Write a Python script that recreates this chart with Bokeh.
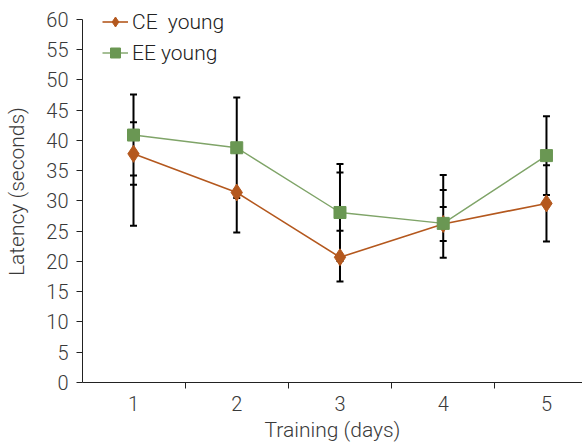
from bokeh.plotting import figure
from bokeh.models import Range1d, FixedTicker, Legend, LegendItem
from bokeh.embed import file_html
from bokeh.resources import INLINE

days = [1, 2, 3, 4, 5]
day_labels = ["1", "2", "3", "4", "5"]
ce_young = [37.8, 31.4, 20.7, 26.2, 29.6]
ee_young = [40.9, 38.8, 28.1, 26.3, 37.5]
ce_err_hi = [43.0, 38.0, 25.1, 29.0, 35.9]
ce_err_lo = [32.7, 24.8, 16.7, 23.4, 23.3]
ee_err_hi = [47.6, 47.1, 36.1, 31.8, 44.0]
ee_err_lo = [34.2, 30.5, 20.1, 20.6, 31.0]
extra_days = [1, 3, 4]
extra_ends = [25.9, 34.7, 34.3]
y_ticks = list(range(0, 61, 5))

CE_COLOR = "#B4581E"
EE_MARK = "#6A9753"
EE_LINE = "#7FA468"
FONT = "Roboto Light"
TXT = "#3a3a3a"

p = figure(width=582, height=445, output_backend="svg", toolbar_location=None,
           x_range=Range1d(0.506, 5.349), y_range=Range1d(0, 63.14),
           min_border_left=82, min_border_right=0, min_border_top=0,
           min_border_bottom=63)
p.outline_line_color = None
p.xgrid.grid_line_color = None
p.ygrid.grid_line_color = None
p.background_fill_color = "white"
p.border_fill_color = "white"

# error bars
ends = {d: [] for d in days}
for i, d in enumerate(days):
    ends[d] += [ce_err_hi[i], ce_err_lo[i], ee_err_hi[i], ee_err_lo[i]]
for d, e in zip(extra_days, extra_ends):
    ends[d].append(e)
seg_lo = [min(ends[d]) for d in days]
seg_hi = [max(ends[d]) for d in days]
p.segment(x0=days, y0=seg_lo, x1=days, y1=seg_hi, line_color="black", line_width=2)
cap_x, cap_y = [], []
for d in days:
    for e in ends[d]:
        cap_x.append(d)
        cap_y.append(e)
p.scatter(x=cap_x, y=cap_y, marker="dash", size=7, line_color="black", line_width=2)

# series
ce_line = p.line(days, ce_young, line_color=CE_COLOR, line_width=1.6)
ee_line = p.line(days, ee_young, line_color=EE_LINE, line_width=1.4)
ce_mark = p.scatter(days, ce_young, marker="diamond", size=17, fill_color=CE_COLOR, line_color=CE_COLOR)
ee_mark = p.scatter(days, ee_young, marker="square", size=12, fill_color=EE_MARK, line_color=EE_MARK)

legend = Legend(items=[LegendItem(label="CE  young", renderers=[ce_line, ce_mark]),
                       LegendItem(label="EE young", renderers=[ee_line, ee_mark])],
                location=(20, 317), padding=0, margin=0, spacing=6,
                glyph_width=26, glyph_height=25, label_height=25, label_standoff=4,
                border_line_color=None, background_fill_alpha=0,
                label_text_font=FONT, label_text_font_size="21px", label_text_color="#222222")
p.add_layout(legend)

# x axis
p.xaxis.ticker = FixedTicker(ticks=days, minor_ticks=[1.5, 2.5, 3.5, 4.5])
p.xaxis.major_label_overrides = {d: l for d, l in zip(days, day_labels)}
p.xaxis.major_tick_out = 6
p.xaxis.major_tick_in = 0
p.xaxis.minor_tick_out = 6
p.xaxis.minor_tick_in = 0
p.xaxis.minor_tick_line_color = "#222222"
p.xaxis.major_label_standoff = 7
p.xaxis.axis_label = "Training (days)"
p.xaxis.axis_label_standoff = 4

# y axis
p.yaxis.ticker = FixedTicker(ticks=y_ticks, minor_ticks=[])
p.yaxis.bounds = (0, 60)
p.yaxis.major_tick_out = 6
p.yaxis.major_tick_in = 0
p.yaxis.major_label_standoff = 8
p.yaxis.axis_label = "Latency (seconds)"
p.yaxis.axis_label_standoff = 14

for ax in (p.xaxis, p.yaxis):
    ax.axis_line_color = "#222222"
    ax.major_label_text_font = FONT
    ax.major_label_text_font_size = "20px"
    ax.major_label_text_color = TXT
    ax.axis_label_text_font = FONT
    ax.axis_label_text_font_size = "21px"
    ax.axis_label_text_font_style = "normal"
    ax.axis_label_text_color = TXT
p.yaxis.major_tick_line_color = "#222222"
p.xaxis.major_tick_line_color = None

open("out.html", "w").write(file_html(p, INLINE))
